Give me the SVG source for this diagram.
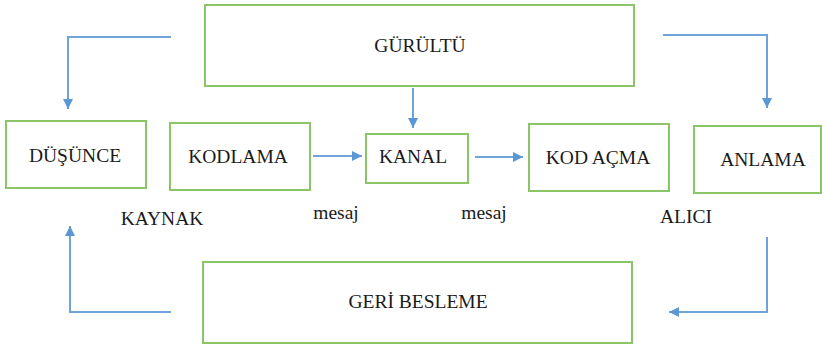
<svg xmlns="http://www.w3.org/2000/svg" width="827" height="348" viewBox="0 0 827 348">
<style>
.box{fill:#fff;stroke:#8CC468;stroke-width:2}
.t{font-size:19.5px;fill:#1a1a1a;text-anchor:middle}
.c{fill:none;stroke:#6FA3DA;stroke-width:2}
</style>
<defs>
<marker id="ah" viewBox="0 0 10 10" refX="10" refY="5" markerWidth="5" markerHeight="5" orient="auto" markerUnits="strokeWidth">
<path d="M0,0 L10,5 L0,10 z" fill="#5B96D5"/>
</marker>
</defs>
<rect width="827" height="348" fill="#fff"/>
<g id="connectors">
<path class="c" d="M171,37 H68 V109" marker-end="url(#ah)"/>
<path class="c" d="M663,35 H767 V108" marker-end="url(#ah)"/>
<path class="c" d="M413,88 V128" marker-end="url(#ah)"/>
<path class="c" d="M313,156 H362" marker-end="url(#ah)"/>
<path class="c" d="M475,157 H523" marker-end="url(#ah)"/>
<path class="c" d="M171,312 H70 V226" marker-end="url(#ah)"/>
<path class="c" d="M767,237 V312 H669" marker-end="url(#ah)"/>
</g>
<g font-family="Liberation Serif, serif">
<g id="gurultu"><rect class="box" x="205" y="5" width="429" height="81"/><text class="t" x="420" y="52">GÜRÜLTÜ</text></g>
<g id="dusunce"><rect class="box" x="6" y="121" width="140" height="67"/><text class="t" x="75" y="162">DÜŞÜNCE</text></g>
<g id="kodlama"><rect class="box" x="170" y="123" width="140" height="67"/><text class="t" x="238" y="163">KODLAMA</text></g>
<g id="kanal"><rect class="box" x="366" y="134" width="102" height="49"/><text class="t" x="413" y="163">KANAL</text></g>
<g id="kodacma"><rect class="box" x="529" y="124" width="140" height="67"/><text class="t" x="598" y="164">KOD AÇMA</text></g>
<g id="anlama"><rect class="box" x="694" y="126" width="127" height="67"/><text class="t" x="763" y="166">ANLAMA</text></g>
<g id="geribesleme"><rect class="box" x="203" y="262" width="429" height="81"/><text class="t" x="418" y="308">GERİ BESLEME</text></g>
<g id="labels">
<text class="t" x="162" y="225">KAYNAK</text>
<text class="t" x="336" y="219">mesaj</text>
<text class="t" x="484" y="219">mesaj</text>
<text class="t" x="686" y="223">ALICI</text>
</g>
</g>
</svg>
